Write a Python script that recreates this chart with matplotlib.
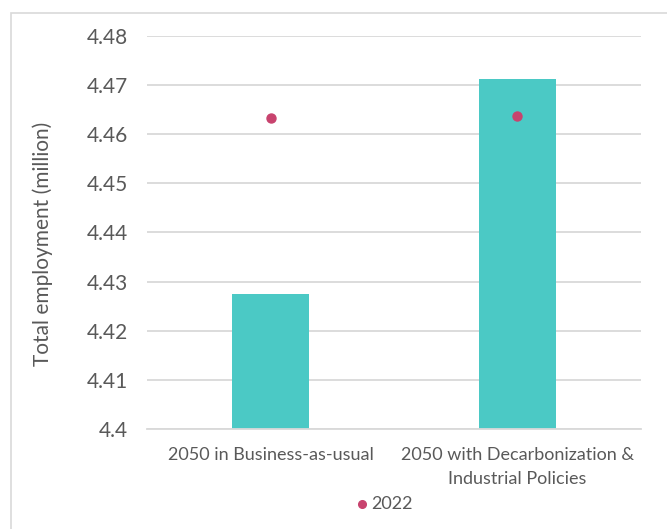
import matplotlib.pyplot as plt
from matplotlib.patches import Rectangle

# Scenario totals for 2050 and the 2022 reference point
categories = ["2050 in Business-as-usual", "2050 with Decarbonization &\nIndustrial Policies"]
employment_2050 = [4.4275, 4.4712]
employment_2022 = [4.4633, 4.4636]
y_ticks = [4.4, 4.41, 4.42, 4.43, 4.44, 4.45, 4.46, 4.47, 4.48]
y_tick_labels = ["4.4", "4.41", "4.42", "4.43", "4.44", "4.45", "4.46", "4.47", "4.48"]

plt.rcParams["font.family"] = ["Lato", "DejaVu Sans"]
text_color = "#595959"
grid_color = "#d9d9d9"

fig = plt.figure(figsize=(6.67, 5.29), dpi=100)
ax = fig.add_axes([0.2204, 0.189, 0.7406, 0.7435])

x = range(len(categories))
ax.bar(x, employment_2050, width=0.31, color="#4bc9c5", zorder=2, bottom=0)
ax.scatter(x, employment_2022, s=42, color="#c8436e", zorder=3, label="2022")

ax.set_xlim(-0.5, 1.5)
ax.set_ylim(4.4, 4.48)
ax.set_yticks(y_ticks)
ax.set_yticklabels(y_tick_labels, fontsize=15, color=text_color)
ax.set_xticks(list(x))
ax.set_xticklabels(categories, fontsize=13, color=text_color, linespacing=1.6)
ax.tick_params(axis="y", length=0, pad=14)
ax.tick_params(axis="x", length=0, pad=13)

ax.grid(axis="y", color=grid_color, linewidth=1.3, zorder=0)
for side in ["top", "right", "left"]:
    ax.spines[side].set_visible(False)
ax.spines["bottom"].set_color(grid_color)
ax.spines["bottom"].set_linewidth(1.3)

ax.set_ylabel("Total employment (million)", fontsize=15, color=text_color)
ax.yaxis.set_label_coords(-0.19, 0.47)

ax.legend(loc="center", bbox_to_anchor=(0.48, -0.19), frameon=False, fontsize=13,
          handlelength=0.8, handletextpad=0.1, markerscale=0.85, labelcolor=text_color)

# light frame around the whole chart area
fig.patches.append(Rectangle((11 / 667, -0.1), 1.2, 1 - 13 / 529 + 0.1,
                             transform=fig.transFigure, fill=False,
                             edgecolor="#d9d9d9", linewidth=1.2))

fig.savefig("out.png", dpi=100)
